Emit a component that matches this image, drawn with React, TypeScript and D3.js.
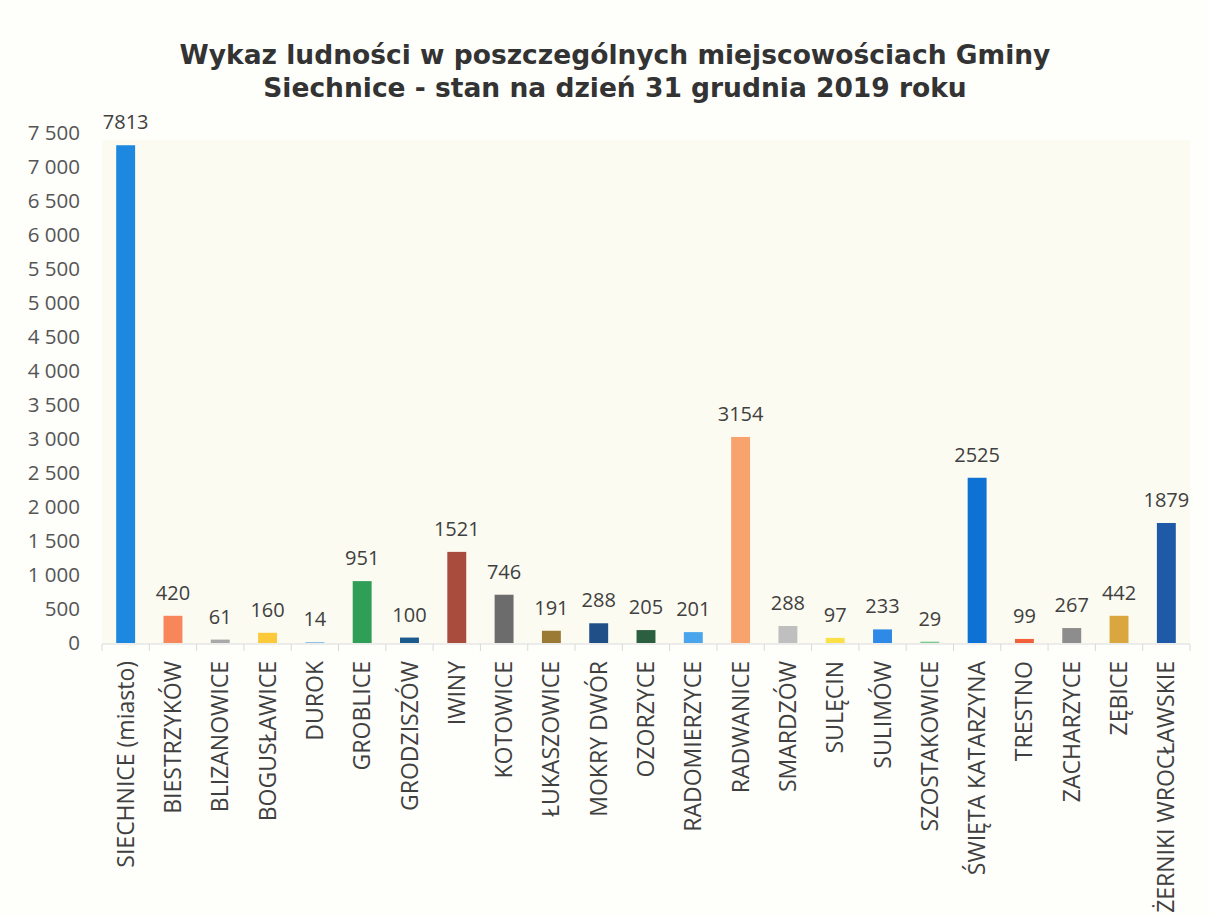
import React from 'react';
import * as d3 from 'd3';

// miejscowości gminy, w kolejności z wykresu
const places = [
  'SIECHNICE (miasto)', 'BIESTRZYKÓW', 'BLIZANOWICE', 'BOGUSŁAWICE', 'DUROK',
  'GROBLICE', 'GRODZISZÓW', 'IWINY', 'KOTOWICE', 'ŁUKASZOWICE', 'MOKRY DWÓR',
  'OZORZYCE', 'RADOMIERZYCE', 'RADWANICE', 'SMARDZÓW', 'SULĘCIN', 'SULIMÓW',
  'SZOSTAKOWICE', 'ŚWIĘTA KATARZYNA', 'TRESTNO', 'ZACHARZYCE', 'ZĘBICE',
  'ŻERNIKI WROCŁAWSKIE',
];

const barHeights = [
  7320, 400, 50, 150, 10, 910, 80, 1340, 710, 180, 290,
  190, 160, 3030, 250, 75, 200, 20, 2430, 60, 220, 400, 1765,
];

// etykiety danych nad słupkami
const labelValues = [
  7813, 420, 61, 160, 14, 951, 100, 1521, 746, 191, 288,
  205, 201, 3154, 288, 97, 233, 29, 2525, 99, 267, 442, 1879,
];

const barColors = [
  '#1e88e0', '#f7875a', '#a9a9a9', '#fcc93a', '#5aa7e8', '#2f9e57', '#1b5a8c',
  '#a94b3d', '#6c6c6c', '#9a7a34', '#1f4f86', '#2c5f40', '#4aa5ec', '#f8a36e',
  '#bfbfbf', '#fbe04a', '#2e8ae6', '#7dc992', '#0e72d4', '#f2603c', '#8d8d8d',
  '#d9a640', '#1e5aa8',
];

const yTicks = d3.range(0, 7501, 500);

const titleLines = [
  'Wykaz ludności w poszczególnych miejscowościach Gminy',
  'Siechnice - stan na dzień 31 grudnia 2019 roku',
];

const W = 1208, H = 915;
const plot = { left: 102, right: 1190, top: 133, bottom: 643 };

const plLocale = d3.formatLocale({ decimal: ',', thousands: ' ', grouping: [3], currency: ['', ' zł'] });
const fmtTick = plLocale.format(',');

export default function App() {
  const x = d3.scaleBand<string>()
    .domain(places)
    .range([plot.left, plot.right])
    .paddingInner(0.6)
    .paddingOuter(0.3);

  const y = d3.scaleLinear()
    .domain([0, 7500])
    .range([plot.bottom, plot.top]);

  const step = x.step();
  const font = '"Open Sans", "DejaVu Sans", sans-serif';

  return (
    <svg width={W} height={H} style={{ position: 'absolute', left: 0, top: 0, background: '#fefefc' }}>
      <rect x={0} y={0} width={W} height={H} fill="#fefefb" />
      {/* lekko kremowe tło obszaru wykresu (skan) */}
      <rect x={plot.left} y={140} width={plot.right - plot.left} height={plot.bottom - 140} fill="#fcfbf1" />

      {titleLines.map((t, i) => (
        <text key={i} x={615} y={64 + i * 33} textAnchor="middle"
          fontFamily='"DejaVu Sans", Verdana, sans-serif' fontWeight="bold" fontSize={26.5} fill="#333">
          {t}
        </text>
      ))}

      {/* oś Y */}
      {yTicks.map(t => (
        <text key={t} x={80} y={y(t)} dy="0.35em" textAnchor="end"
          fontFamily={font} fontSize={20.5} fill="#555">
          {fmtTick(t)}
        </text>
      ))}

      {/* słupki */}
      {places.map((p, i) => (
        <rect key={p} x={x(p)} y={y(barHeights[i])} width={x.bandwidth()}
          height={y(0) - y(barHeights[i])} fill={barColors[i]} />
      ))}

      {/* etykiety danych */}
      {places.map((p, i) => (
        <text key={p} x={(x(p) ?? 0) + x.bandwidth() / 2} y={y(barHeights[i]) - 16}
          textAnchor="middle" fontFamily={font} fontSize={20} fill="#404040">
          {labelValues[i]}
        </text>
      ))}

      {/* oś X */}
      <line x1={plot.left} x2={plot.right} y1={plot.bottom + 1} y2={plot.bottom + 1} stroke="#d9d9d9" />
      {d3.range(places.length + 1).map(k => {
        const xx = plot.left + x.paddingOuter() * step - (x.paddingInner() * step) / 2 + k * step;
        return <line key={k} x1={xx} x2={xx} y1={plot.bottom + 1} y2={plot.bottom + 8} stroke="#d9d9d9" />;
      })}
      {places.map(p => {
        const cx = (x(p) ?? 0) + x.bandwidth() / 2;
        return (
          <text key={p} transform={`translate(${cx},${plot.bottom + 18}) rotate(-90)`}
            dy="0.35em" textAnchor="end" fontFamily={font} fontSize={23} fill="#404040">
            {p}
          </text>
        );
      })}
    </svg>
  );
}
